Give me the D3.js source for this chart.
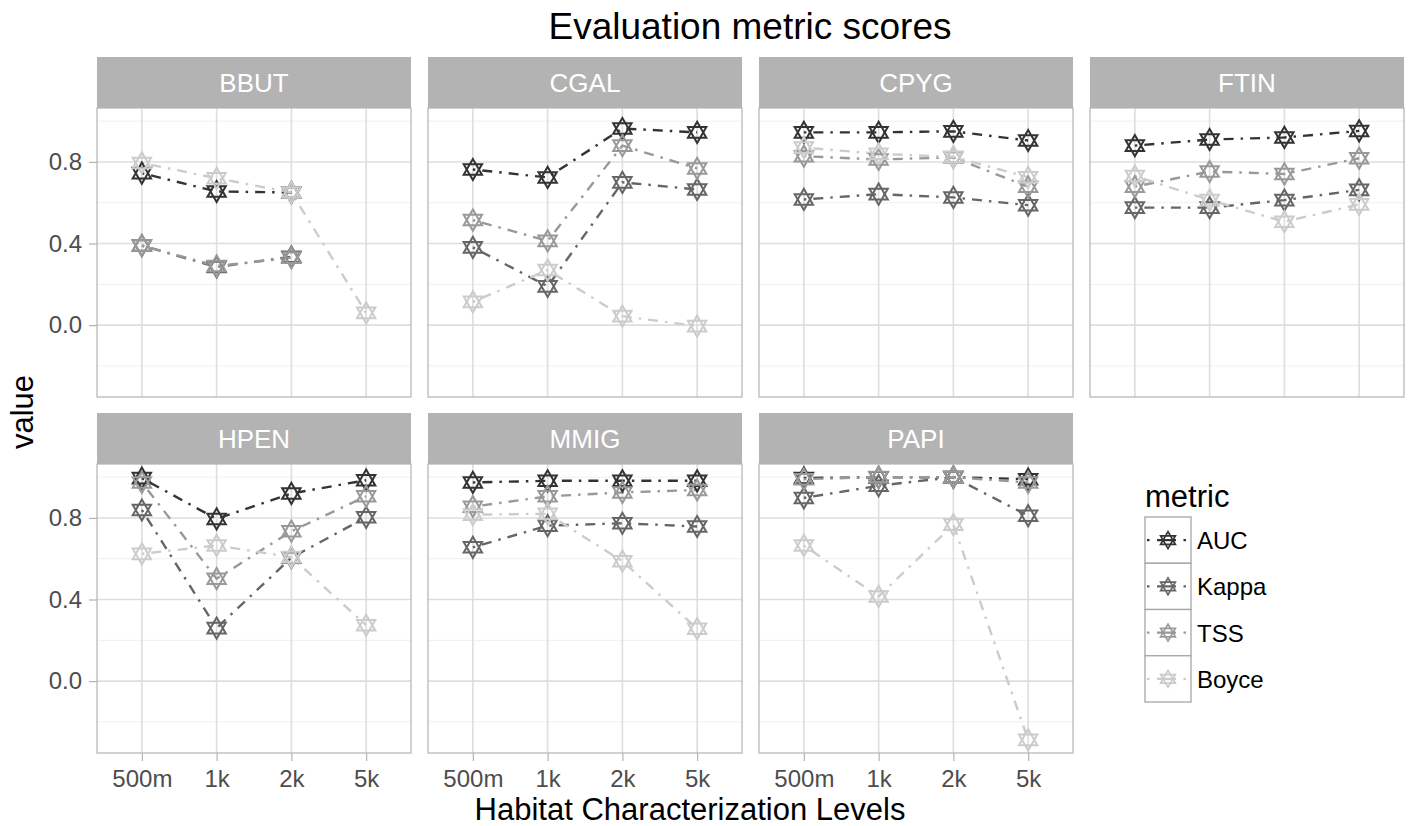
<!DOCTYPE html>
<html><head><meta charset="utf-8">
<script src="https://cdn.jsdelivr.net/npm/d3@7"></script>
<style>
html,body{margin:0;padding:0;background:#fff;}
svg{display:block;font-family:"Liberation Sans",Arial,Helvetica,sans-serif;}
</style></head>
<body><svg id="chart" width="1409" height="826"></svg>
<script>
// ---------- data ----------
const levels = ["500m", "1k", "2k", "5k"];
const species = ["BBUT", "CGAL", "CPYG", "FTIN", "HPEN", "MMIG", "PAPI"];
const metrics = ["AUC", "Kappa", "TSS", "Boyce"];
const yTicks = [0.0, 0.4, 0.8];
const yMinor = [-0.2, 0.2, 0.6, 1.0];

// one row per species (order as in `species`), one value per level
const aucValues = [
  [0.745, 0.655, 0.650, null],
  [0.763, 0.724, 0.964, 0.945],
  [0.945, 0.945, 0.950, 0.905],
  [0.880, 0.910, 0.920, 0.952],
  [0.995, 0.795, 0.920, 0.985],
  [0.974, 0.982, 0.982, 0.982],
  [0.996, 0.999, 1.000, 0.990]
];
const kappaValues = [
  [0.390, 0.285, 0.335, null],
  [0.381, 0.190, 0.700, 0.665],
  [0.616, 0.642, 0.626, 0.588],
  [0.576, 0.576, 0.613, 0.663],
  [0.839, 0.260, 0.605, 0.803],
  [0.656, 0.762, 0.774, 0.758],
  [0.898, 0.958, 1.000, 0.811]
];
const tssValues = [
  [0.390, 0.290, 0.330, null],
  [0.515, 0.413, 0.880, 0.768],
  [0.828, 0.812, 0.822, 0.678],
  [0.679, 0.753, 0.741, 0.818],
  [0.974, 0.502, 0.735, 0.906],
  [0.855, 0.906, 0.925, 0.937],
  [0.990, 1.000, 1.000, 0.974]
];
const boyceValues = [
  [0.795, 0.720, 0.650, 0.060],
  [0.114, 0.270, 0.044, -0.005],
  [0.870, 0.840, 0.825, 0.725],
  [0.731, 0.613, 0.507, 0.592],
  [0.624, 0.665, 0.608, 0.274],
  [0.816, 0.820, 0.588, 0.257],
  [0.665, 0.415, 0.767, -0.288]
];
const metricValues = [aucValues, kappaValues, tssValues, boyceValues];
const metricColors = ["#333333", "#666666", "#999999", "#cccccc"];

// ---------- layout ----------
const svg = d3.select("#chart");
const panelX0 = 97, colStep = 331, panelW = 314;
const rowTop = [57, 413], stripH = 51, plotH = 289;
const ncol = 4;
const dash = "2.5,7,10,7";

const allVals = metricValues.flat(2).filter(v => v != null);
const [vmin, vmax] = d3.extent(allVals);
const pad = (vmax - vmin) * 0.05;
const yDomain = [vmin - pad, vmax + pad];

function starPath(r) {
  const xc = r * Math.sqrt(3) / 2, yc = r / 2;
  return `M0,${-r}L${xc},${yc}L${-xc},${yc}Z M0,${r}L${xc},${-yc}L${-xc},${-yc}Z`;
}
const star = starPath(10.6);

// title
svg.append("text").attr("x", 750).attr("y", 39).attr("text-anchor", "middle")
  .attr("font-size", 37).attr("fill", "#000").text("Evaluation metric scores");

species.forEach((sp, si) => {
  const col = si % ncol, row = Math.floor(si / ncol);
  const x0 = panelX0 + col * colStep;
  const top = rowTop[row];
  const py0 = top + stripH, py1 = py0 + plotH;
  const x = d3.scalePoint().domain(levels).range([x0, x0 + panelW]).padding(0.6);
  const y = d3.scaleLinear().domain(yDomain).range([py1, py0]);
  const g = svg.append("g");

  // strip
  g.append("rect").attr("x", x0).attr("y", top).attr("width", panelW).attr("height", stripH)
    .attr("fill", "#b3b3b3");
  g.append("text").attr("x", x0 + panelW / 2).attr("y", top + stripH / 2 + 9)
    .attr("text-anchor", "middle").attr("font-size", 26).attr("fill", "#fff").text(sp);

  // grid
  g.selectAll(".minor").data(yMinor).join("line")
    .attr("x1", x0).attr("x2", x0 + panelW)
    .attr("y1", d => y(d)).attr("y2", d => y(d))
    .attr("stroke", "#f0f0f0").attr("stroke-width", 1);
  g.selectAll(".majory").data(yTicks).join("line")
    .attr("x1", x0).attr("x2", x0 + panelW)
    .attr("y1", d => y(d)).attr("y2", d => y(d))
    .attr("stroke", "#dedede").attr("stroke-width", 1.6);
  g.selectAll(".majorx").data(levels).join("line")
    .attr("x1", d => x(d)).attr("x2", d => x(d))
    .attr("y1", py0).attr("y2", py1)
    .attr("stroke", "#dedede").attr("stroke-width", 1.6);

  // lines
  metricValues.forEach((mv, mi) => {
    const vals = mv[si];
    const line = d3.line().defined(d => d[1] != null).x(d => x(d[0])).y(d => y(d[1]));
    g.append("path").datum(levels.map((l, i) => [l, vals[i]]))
      .attr("d", line).attr("fill", "none")
      .attr("stroke", metricColors[mi]).attr("stroke-width", 2.4)
      .attr("stroke-dasharray", dash);
  });
  // points
  metricValues.forEach((mv, mi) => {
    const vals = mv[si];
    g.selectAll(null).data(levels.map((l, i) => [l, vals[i]]).filter(d => d[1] != null))
      .join("path")
      .attr("transform", d => `translate(${x(d[0])},${y(d[1])})`)
      .attr("d", star).attr("fill", "none")
      .attr("stroke", metricColors[mi]).attr("stroke-width", 2)
      .attr("stroke-linejoin", "miter");
  });

  // border
  g.append("rect").attr("x", x0).attr("y", py0).attr("width", panelW).attr("height", plotH)
    .attr("fill", "none").attr("stroke", "#b3b3b3").attr("stroke-width", 1.2);

  // y axis on first column
  if (col === 0) {
    const ya = svg.append("g").attr("transform", `translate(${x0},0)`)
      .call(d3.axisLeft(y).tickValues(yTicks).tickFormat(d3.format(".1f")).tickSize(8).tickPadding(7));
    ya.select(".domain").remove();
    ya.selectAll(".tick line").attr("stroke", "#b3b3b3").attr("stroke-width", 1.2);
    ya.selectAll(".tick text").attr("font-size", 24).attr("fill", "#4d4d4d")
      .attr("font-family", "Liberation Sans, Arial, sans-serif");
  }
  // x axis on bottom row panels
  if (row === 1) {
    const xa = svg.append("g").attr("transform", `translate(0,${py1})`)
      .call(d3.axisBottom(x).tickSize(8).tickPadding(9));
    xa.select(".domain").remove();
    xa.selectAll(".tick line").attr("stroke", "#b3b3b3").attr("stroke-width", 1.2);
    xa.selectAll(".tick text").attr("font-size", 24).attr("fill", "#4d4d4d")
      .attr("font-family", "Liberation Sans, Arial, sans-serif");
  }
});

// axis titles
svg.append("text").attr("x", 690).attr("y", 820).attr("text-anchor", "middle")
  .attr("font-size", 31).attr("fill", "#000").text("Habitat Characterization Levels");
svg.append("text").attr("transform", "translate(33,412) rotate(-90)").attr("text-anchor", "middle")
  .attr("font-size", 31).attr("fill", "#000").text("value");

// legend
const lg = svg.append("g");
lg.append("text").attr("x", 1145).attr("y", 507).attr("font-size", 31).attr("fill", "#000").text("metric");
const keyX = 1145, keyY = 517, keyW = 46, keyH = 46.25;
metrics.forEach((m, i) => {
  const ky = keyY + i * keyH;
  lg.append("rect").attr("x", keyX).attr("y", ky).attr("width", keyW).attr("height", keyH)
    .attr("fill", "#fff").attr("stroke", "#a6a6a6").attr("stroke-width", 1.3);
  lg.append("line").attr("x1", keyX + 2).attr("x2", keyX + keyW - 2)
    .attr("y1", ky + keyH / 2).attr("y2", ky + keyH / 2)
    .attr("stroke", metricColors[i]).attr("stroke-width", 2.2).attr("stroke-dasharray", "2.5,7.5,19,7.5");
  lg.append("path").attr("transform", `translate(${keyX + keyW / 2},${ky + keyH / 2})`)
    .attr("d", starPath(8.5)).attr("fill", "none").attr("stroke", metricColors[i]).attr("stroke-width", 1.7);
  lg.append("text").attr("x", 1197).attr("y", ky + keyH / 2 + 9).attr("font-size", 24)
    .attr("fill", "#000").text(m);
});
</script></body></html>
